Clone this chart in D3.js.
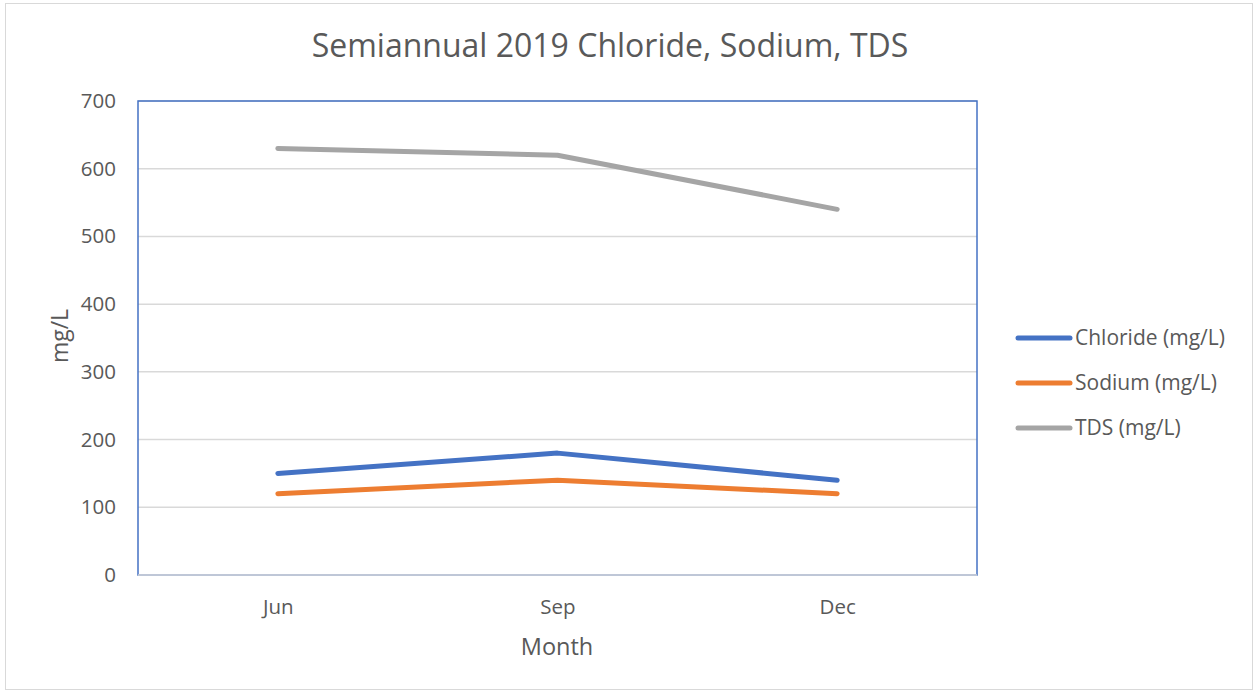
<!DOCTYPE html>
<html>
<head>
<meta charset="utf-8">
<script src="https://cdn.jsdelivr.net/npm/d3@7"></script>
<style>
  body { margin: 0; background: #fff; }
  svg { display: block; font-family: 'Open Sans', sans-serif; }
</style>
</head>
<body>
<svg id="chart" width="1254" height="691"></svg>
<script>
const months = ['Jun', 'Sep', 'Dec']
const chloride = [150, 180, 140]
const sodium = [120, 140, 120]
const tds = [630, 620, 540]
const seriesNames = ['Chloride (mg/L)', 'Sodium (mg/L)', 'TDS (mg/L)']
const seriesColors = ['#4472C4', '#ED7D31', '#A5A5A5']
const yTicks = [0, 100, 200, 300, 400, 500, 600, 700]

const series = [chloride, sodium, tds].map((vals, i) => ({
    name: seriesNames[i],
    color: seriesColors[i],
    values: vals.map((v, j) => ({ month: months[j], value: v }))
}))

const svg = d3.select('#chart')
const margin = { left: 138, top: 101, right: 977, bottom: 575 }
const textColor = '#595959'

// outer chart border
svg.append('rect')
    .attr('x', 5.5).attr('y', 3.5)
    .attr('width', 1247).attr('height', 686)
    .attr('fill', '#fff').attr('stroke', '#d9d9d9')

svg.append('text')
    .attr('x', 610).attr('y', 57)
    .attr('text-anchor', 'middle')
    .attr('font-size', 32)
    .attr('fill', textColor)
    .text('Semiannual 2019 Chloride, Sodium, TDS')

const x = d3.scalePoint().domain(months).range([margin.left, margin.right]).padding(0.5)
const y = d3.scaleLinear().domain([0, 700]).range([margin.bottom, margin.top])

// gridlines
svg.append('g')
    .selectAll('line').data(yTicks.filter(d => d > 0))
    .join('line')
    .attr('x1', margin.left).attr('x2', margin.right)
    .attr('y1', d => y(d)).attr('y2', d => y(d))
    .attr('stroke', '#d9d9d9').attr('stroke-width', 1.5)

// plot area border
svg.append('rect')
    .attr('x', margin.left).attr('y', margin.top)
    .attr('width', margin.right - margin.left)
    .attr('height', margin.bottom - margin.top)
    .attr('fill', 'none').attr('stroke', '#4472C4').attr('stroke-width', 1.5)

// x axis line
svg.append('line')
    .attr('x1', margin.left).attr('x2', margin.right)
    .attr('y1', y(0)).attr('y2', y(0))
    .attr('stroke', '#d9d9d9').attr('stroke-width', 1.5)

const axisY = d3.axisLeft(y).tickValues(yTicks).tickSize(0).tickPadding(22)
svg.append('g')
    .attr('transform', `translate(${margin.left}, 0)`)
    .call(axisY)
    .call(g => g.select('.domain').remove())
    .selectAll('text')
    .attr('font-size', 20.5).attr('fill', textColor).attr('font-family', 'Open Sans')

const axisX = d3.axisBottom(x).tickSize(0).tickPadding(24)
svg.append('g')
    .attr('transform', `translate(0, ${margin.bottom})`)
    .call(axisX)
    .call(g => g.select('.domain').remove())
    .selectAll('text')
    .attr('font-size', 20.5).attr('fill', textColor).attr('font-family', 'Open Sans')

svg.append('text')
    .attr('transform', 'translate(68, 336) rotate(-90)')
    .attr('text-anchor', 'middle')
    .attr('font-size', 23).attr('fill', textColor)
    .text('mg/L')

svg.append('text')
    .attr('x', 557).attr('y', 655)
    .attr('text-anchor', 'middle')
    .attr('font-size', 23.5).attr('fill', textColor)
    .text('Month')

const lineGenerator = d3.line().x(d => x(d.month)).y(d => y(d.value))

svg.append('g')
    .selectAll('path').data(series)
    .join('path')
    .attr('d', d => lineGenerator(d.values))
    .attr('fill', 'none')
    .attr('stroke', d => d.color)
    .attr('stroke-width', 5)
    .attr('stroke-linecap', 'round')
    .attr('stroke-linejoin', 'round')

const legend = svg.append('g')
    .selectAll('g').data(series)
    .join('g')
    .attr('transform', (d, i) => `translate(1018, ${338 + i * 45})`)
legend.append('line')
    .attr('x1', 0).attr('x2', 52)
    .attr('stroke', d => d.color).attr('stroke-width', 5)
    .attr('stroke-linecap', 'round')
legend.append('text')
    .attr('x', 57).attr('dy', '0.35em')
    .attr('font-size', 21).attr('fill', textColor)
    .text(d => d.name)
</script>
</body>
</html>
